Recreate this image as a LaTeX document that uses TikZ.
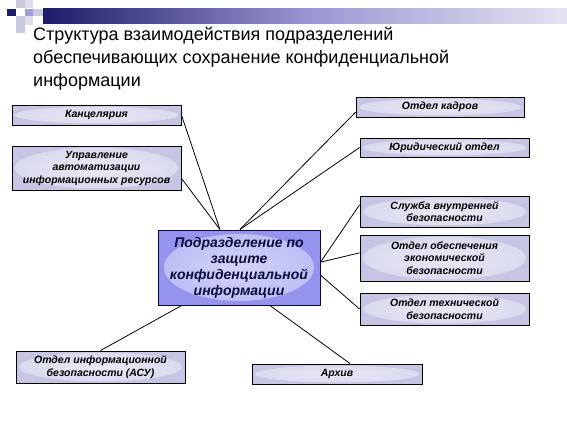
\documentclass[tikz,border=0pt]{standalone}
\usepackage{fontspec}
\setmainfont{Liberation Sans}
\usetikzlibrary{calc}
\definecolor{boxout}{RGB}{198,198,228}
\definecolor{boxin}{RGB}{232,232,246}
\definecolor{boxedge}{RGB}{218,218,238}
\definecolor{cenout}{RGB}{148,148,238}
\definecolor{cenin}{RGB}{212,212,248}
\definecolor{cenedge}{RGB}{188,188,245}
\definecolor{navy}{RGB}{10,10,60}
\definecolor{hdark}{RGB}{28,28,104}
\definecolor{hmid}{RGB}{150,150,210}
\definecolor{hlight}{RGB}{228,228,242}
\definecolor{sqlight}{RGB}{200,200,222}
\definecolor{sqlight2}{RGB}{222,222,236}
\definecolor{sqlav}{RGB}{160,160,210}
\tikzset{
  unit/.style={draw=black, line width=0.9pt, fill=boxout, inner sep=0pt, align=center,
    text=black, font=\fontsize{10.5}{12.5}\selectfont\bfseries\itshape,
    path picture={\shade[inner color=boxin, outer color=boxedge] let \p1=(path picture bounding box.south west), \p2=(path picture bounding box.north east) in (path picture bounding box.center) ellipse ({0.5*\x2-0.5*\x1-3pt} and {0.5*\y2-0.5*\y1-1.5pt});}},
  cunit/.style={draw=navy, line width=1pt, fill=cenout, inner sep=0pt, align=center,
    text=navy, font=\fontsize{14}{16}\selectfont\bfseries\itshape,
    path picture={\shade[inner color=cenin, outer color=cenedge] let \p1=(path picture bounding box.south west), \p2=(path picture bounding box.north east) in (path picture bounding box.center) ellipse ({0.5*\x2-0.5*\x1-6pt} and {0.5*\y2-0.5*\y1-4pt});}},
  titletext/.style={anchor=base west, inner sep=0pt, font=\fontsize{18}{23}\selectfont, text=black},
  link/.style={draw=black, line width=0.8pt}
}
\begin{document}
\begin{tikzpicture}[x=1pt,y=-1pt]
\useasboundingbox (0,0) rectangle (567,425);
\fill[white] (0,0) rectangle (567,425);
% header decoration
\shade[left color=hdark, right color=hlight, middle color=hmid] (43,9) rectangle (567,24);
\fill[hdark] (7,9) rectangle (16,16);
\fill[sqlight] (16,0) rectangle (25,8);
\fill[sqlight2] (25,0) rectangle (33,8);
\fill[sqlav] (25,9) rectangle (33,16);
\fill[sqlight] (33,9) rectangle (43,16);
\fill[sqlight] (16,16) rectangle (25,25);
\fill[sqlight2] (25,16) rectangle (33,25);
\fill[sqlight] (16,25) rectangle (25,33);
% title
\node[titletext] (t1) at (33,41) {Структура взаимодействия подразделений};
\node[titletext] (t2) at (33,64) {обеспечивающих сохранение конфиденциальной};
\node[titletext] (t3) at (33,87) {информации};
% boxes
\node[unit, minimum width=169pt, minimum height=20pt] (kanc) at (96.5,115) {Канцелярия};
\node[unit, minimum width=169pt, minimum height=44pt] (upr) at (96.5,168) {Управление\\автоматизации\\информационных ресурсов};
\node[cunit, minimum width=162pt, minimum height=75pt] (cen) at (239,267.5) {Подразделение по\\защите\\конфиденциальной\\информации};
\node[unit, minimum width=168pt, minimum height=20pt] (kadry) at (440,107) {Отдел кадров};
\node[unit, minimum width=169pt, minimum height=19pt] (yur) at (444.5,147.5) {Юридический отдел};
\node[unit, minimum width=169pt, minimum height=31pt] (sluzh) at (444.5,211.5) {Служба внутренней\\безопасности};
\node[unit, minimum width=169pt, minimum height=46pt] (econ) at (444.5,258) {Отдел обеспечения\\экономической\\безопасности};
\node[unit, minimum width=169pt, minimum height=32pt] (tech) at (444.5,309) {Отдел технической\\безопасности};
\node[unit, minimum width=169pt, minimum height=32pt] (asu) at (100.5,367) {Отдел информационной\\безопасности (АСУ)};
\node[unit, minimum width=170pt, minimum height=20pt] (arhiv) at (337,374) {Архив};
% connector ends on the central box
\coordinate (ctA) at ($(cen.north west)!0.383!(cen.north east)$);
\coordinate (ctB) at ($(cen.north west)!0.506!(cen.north east)$);
\coordinate (crA) at ($(cen.north east)!0.43!(cen.south east)$);
\coordinate (crB) at ($(cen.north east)!0.6!(cen.south east)$);
\coordinate (cbA) at ($(cen.south west)!0.148!(cen.south east)$);
\coordinate (cbB) at ($(cen.south west)!0.69!(cen.south east)$);
% connectors
\draw[link] (kanc.east) -- (ctA);
\draw[link] ($(upr.south east)!0.27!(upr.north east)$) -- (ctA);
\draw[link] ($(kadry.south west)!0.25!(kadry.north west)$) -- (ctB);
\draw[link] (yur.west) -- (ctB);
\draw[link] ($(sluzh.north west)!0.29!(sluzh.south west)$) -- (crA);
\draw[link] ($(econ.north west)!0.39!(econ.south west)$) -- (crA);
\draw[link] (tech.west) -- (crB);
\draw[link] (cbA) -- (asu.north);
\draw[link] (cbB) -- ($(arhiv.north west)!0.576!(arhiv.north east)$);
\end{tikzpicture}
\end{document}
